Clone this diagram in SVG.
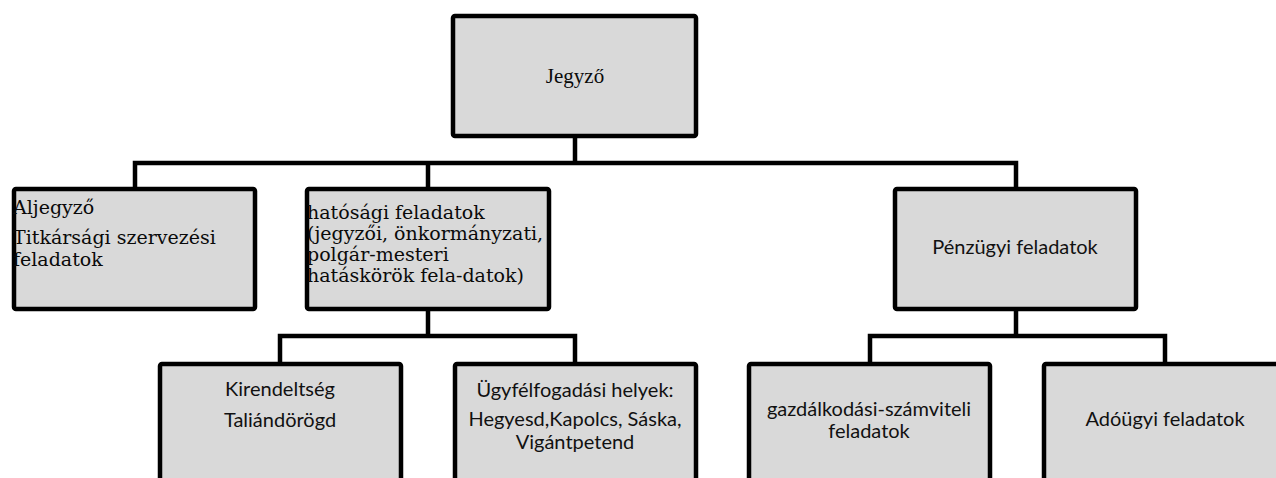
<svg xmlns="http://www.w3.org/2000/svg" width="1276" height="478" viewBox="0 0 1276 478">
  <style>
    .box { fill: #d9d9d9; stroke: #000; stroke-width: 4.5; }
    .conn { fill: none; stroke: #000; stroke-width: 4.5; stroke-linecap: square; stroke-linejoin: miter; }
    .serif { font-family: "DejaVu Serif", "Liberation Serif", serif; font-size: 19px; fill: #0a0a0a; }
    .top { font-family: "Liberation Serif", serif; font-size: 21px; fill: #0a0a0a; }
    .sans { font-family: Lato, "Open Sans", sans-serif; font-size: 20px; fill: #111; text-anchor: middle; }
  </style>
  <rect width="1276" height="478" fill="#fff"/>
  <g id="connectors">
    <path class="conn" d="M575 138 V163 M135 163 H1016 M135 163 V187 M428 163 V187 M1016 163 V187"/>
    <path class="conn" d="M428 311 V336 M280 336 H575 M280 336 V362 M575 336 V362"/>
    <path class="conn" d="M1016 311 V336 M870 336 H1165 M870 336 V362 M1165 336 V362"/>
  </g>
  <g id="jegyzo">
    <rect class="box" x="453" y="16" width="243" height="120" rx="2"/>
    <text class="top" x="575" y="83" text-anchor="middle">Jegyző</text>
  </g>
  <g id="aljegyzo">
    <rect class="box" x="14" y="189" width="241" height="120" rx="2"/>
    <text class="serif" x="13" y="214">Aljegyző</text>
    <text class="serif" x="13" y="244">Titkársági szervezési</text>
    <text class="serif" x="13" y="266">feladatok</text>
  </g>
  <g id="hatosagi">
    <rect class="box" x="307" y="189" width="242" height="120" rx="2"/>
    <text class="serif" x="307" y="219">hatósági feladatok</text>
    <text class="serif" x="307" y="240">(jegyzői, önkormányzati,</text>
    <text class="serif" x="307" y="261">polgár-mesteri</text>
    <text class="serif" x="307" y="282">hatáskörök  fela-datok)</text>
  </g>
  <g id="penzugyi">
    <rect class="box" x="895" y="189" width="241" height="120" rx="2"/>
    <text class="sans" x="1015" y="254">Pénzügyi feladatok</text>
  </g>
  <g id="kirendeltseg">
    <rect class="box" x="160" y="364" width="241" height="140" rx="2"/>
    <text class="sans" x="280" y="396">Kirendeltség</text>
    <text class="sans" x="280" y="427">Taliándörögd</text>
  </g>
  <g id="ugyfel">
    <rect class="box" x="455" y="364" width="241" height="140" rx="2"/>
    <text class="sans" x="575" y="397">Ügyfélfogadási helyek:</text>
    <text class="sans" x="575" y="426">Hegyesd,Kapolcs, Sáska,</text>
    <text class="sans" x="575" y="449">Vigántpetend</text>
  </g>
  <g id="gazdalkodasi">
    <rect class="box" x="749" y="364" width="241" height="140" rx="2"/>
    <text class="sans" x="869" y="416">gazdálkodási-számviteli</text>
    <text class="sans" x="869" y="438">feladatok</text>
  </g>
  <g id="adougyi">
    <rect class="box" x="1044" y="364" width="241" height="140" rx="2"/>
    <text class="sans" x="1165" y="426">Adóügyi feladatok</text>
  </g>
</svg>
